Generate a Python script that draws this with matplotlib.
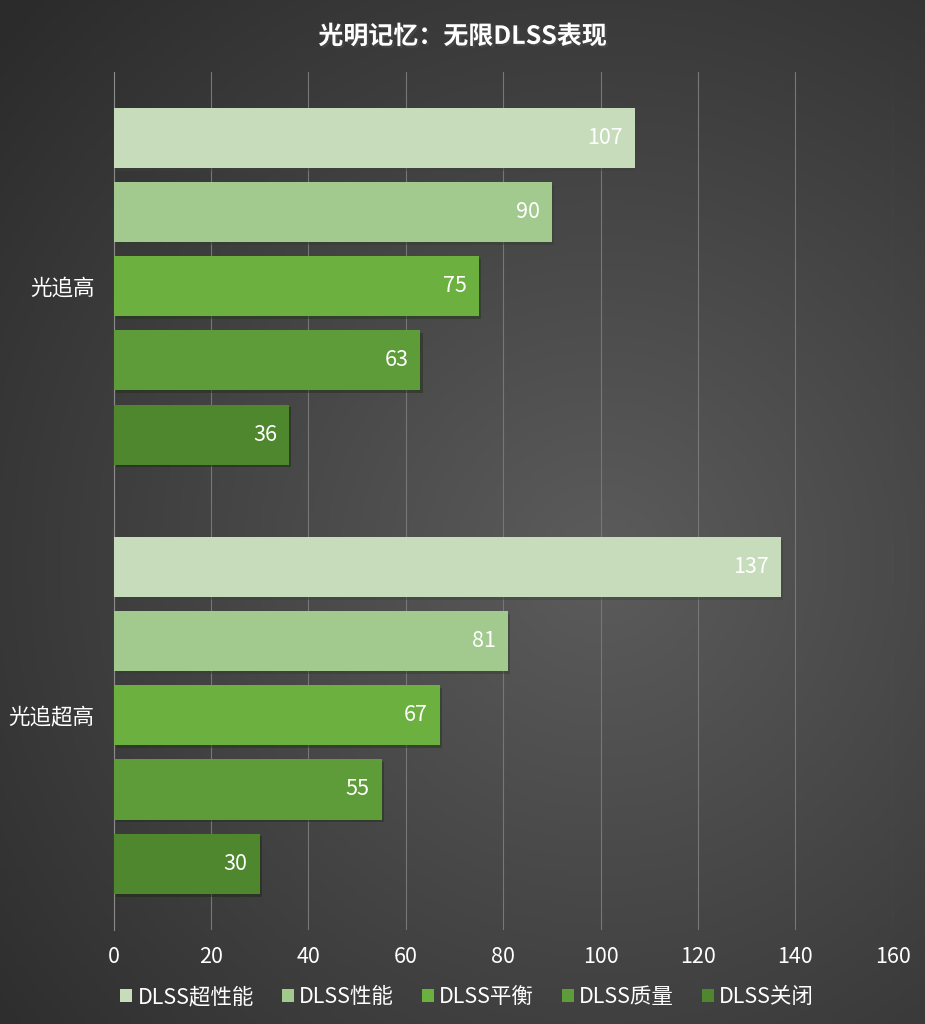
import numpy as np
import matplotlib
matplotlib.use("Agg")
import matplotlib.pyplot as plt
import matplotlib.patheffects as pe
from matplotlib.patches import Patch

plt.rcParams['font.family'] = ['Noto Sans CJK SC', 'DejaVu Sans']

categories = ['光追高', '光追超高']
series = ['DLSS超性能', 'DLSS性能', 'DLSS平衡', 'DLSS质量', 'DLSS关闭']
values = {
    'DLSS超性能': [107, 137],
    'DLSS性能': [90, 81],
    'DLSS平衡': [75, 67],
    'DLSS质量': [63, 55],
    'DLSS关闭': [36, 30],
}
colors = ['#c6dcbb', '#a2c98e', '#6cb040', '#5d9c38', '#4e872d']
xticks = [0, 20, 40, 60, 80, 100, 120, 140, 160]

fig = plt.figure(figsize=(9.25, 10.24), dpi=100)

# dark radial-ish background
bg = fig.add_axes([0, 0, 1, 1], zorder=-10)
yy, xx = np.mgrid[0:1:300j, 0:1:300j]
r = np.sqrt((xx - 0.65) ** 2 + ((yy - 0.55) * 1.1) ** 2)
shade = np.clip(0.36 - 0.22 * r, 0.17, 0.36)
bg.imshow(np.dstack([shade, shade, shade]), extent=[0, 1, 0, 1], aspect='auto')
bg.axis('off')

ax = fig.add_axes([0.123, 0.092, 0.842, 0.838])
ax.patch.set_alpha(0)

pitch = 0.173
h = 0.14
shadow = [pe.SimplePatchShadow(offset=(1.5, -2), alpha=0.45), pe.Normal()]
y0 = np.arange(len(categories))
for i, s in enumerate(series):
    pos = y0 + (i - 2) * pitch
    bars = ax.barh(pos, values[s], height=h, color=colors[i], zorder=3)
    for b, v in zip(bars, values[s]):
        b.set_path_effects(shadow)
        ax.text(v - 2.5, b.get_y() + h / 2, str(v), ha='right', va='center',
                color='white', fontsize=15.5, zorder=4)

ax.set_xlim(0, 160)
ax.set_ylim(1.5, -0.5)
ax.set_xticks(xticks)
ax.set_yticks(y0)
ax.set_yticklabels(categories)
ax.grid(axis='x', color='#777777', linewidth=0.8, zorder=0)
for sp in ['top', 'right', 'bottom']:
    ax.spines[sp].set_visible(False)
ax.spines['left'].set_color('#8a8a8a')
ax.tick_params(axis='both', length=0, colors='white', labelsize=15.5)
ax.tick_params(axis='x', pad=12)
ax.tick_params(axis='y', pad=14)

fig.text(0.5, 0.964, '光明记忆：无限DLSS表现', ha='center', va='center',
         color='white', fontsize=18, fontweight='bold',
         path_effects=[pe.withSimplePatchShadow(offset=(1.5, -1.5), alpha=0.6)])

handles = [Patch(facecolor=c, label=s) for c, s in zip(colors, series)]
fig.legend(handles=handles, loc='center', bbox_to_anchor=(0.505, 0.026), ncol=5,
           frameon=False, fontsize=15.5, labelcolor='white', handlelength=0.55,
           handleheight=0.55, handletextpad=0.25, columnspacing=1.3)

fig.savefig('out.png', dpi=100)
